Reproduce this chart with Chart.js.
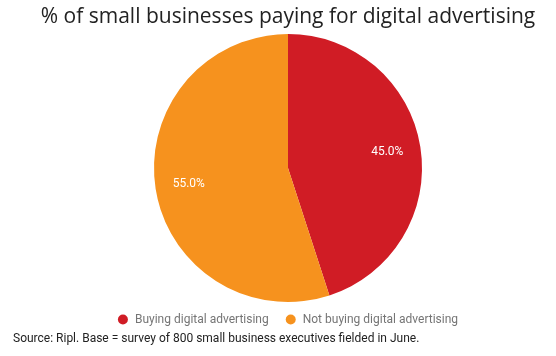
<!DOCTYPE html>
<html>
<head>
<meta charset="utf-8">
<script src="https://cdn.jsdelivr.net/npm/chart.js@4/dist/chart.umd.min.js"></script>
<style>
html,body{margin:0;padding:0;background:#fff;}
#wrap{width:556px;height:356px;}
</style>
</head>
<body>
<div id="wrap"><canvas id="c" width="556" height="356"></canvas></div>
<script>
const titleText = "% of small businesses paying for digital advertising";
const sourceText = "Source: Ripl. Base = survey of 800 small business executives fielded in June.";
const categories = ["Buying digital advertising", "Not buying digital advertising"];
const shares = [45.0, 55.0];
const sliceColors = ["#d01c25", "#f6921e"];

const sliceLabels = {
  id: 'sliceLabels',
  afterDatasetsDraw(chart) {
    const ctx = chart.ctx;
    const meta = chart.getDatasetMeta(0);
    ctx.save();
    ctx.font = '12px Roboto';
    ctx.fillStyle = '#ffffff';
    ctx.textAlign = 'center';
    ctx.textBaseline = 'middle';
    meta.data.forEach((arc, i) => {
      const mid = (arc.startAngle + arc.endAngle) / 2;
      const r = arc.outerRadius * 0.75;
      ctx.fillText(shares[i].toFixed(1) + '%', arc.x + Math.cos(mid) * r, arc.y + Math.sin(mid) * r);
    });
    ctx.restore();
  }
};

const bottomLegend = {
  id: 'bottomLegend',
  afterDraw(chart) {
    const ctx = chart.ctx;
    ctx.save();
    ctx.font = '12px Roboto';
    ctx.textBaseline = 'middle';
    const dotR = 5, gapDot = 7, gapItem = 17;
    const widths = categories.map(t => ctx.measureText(t).width);
    let total = 0;
    widths.forEach((w, i) => { total += dotR * 2 + gapDot + w + (i < widths.length - 1 ? gapItem : 0); });
    const cx = (chart.chartArea.left + chart.chartArea.right) / 2;
    let x = cx - total / 2;
    const y = 319.5;
    categories.forEach((t, i) => {
      ctx.beginPath();
      ctx.fillStyle = sliceColors[i];
      ctx.arc(x + dotR, y, dotR, 0, Math.PI * 2);
      ctx.fill();
      ctx.fillStyle = '#757575';
      ctx.textAlign = 'left';
      ctx.fillText(t, x + dotR * 2 + gapDot, y + 0.5);
      x += dotR * 2 + gapDot + widths[i] + gapItem;
    });
    ctx.font = '12px Roboto';
    ctx.fillStyle = '#222222';
    ctx.fillText(sourceText, 13, 338.5);
    ctx.restore();
  }
};

new Chart(document.getElementById('c'), {
  type: 'pie',
  data: {
    labels: categories,
    datasets: [{
      data: shares,
      backgroundColor: sliceColors,
      borderWidth: 0
    }]
  },
  options: {
    responsive: false,
    animation: false,
    layout: { padding: { left: 20, right: 0, top: 0, bottom: 54 } },
    plugins: {
      legend: { display: false },
      tooltip: { enabled: false },
      title: {
        display: true,
        text: titleText,
        color: '#222222',
        font: { family: "'Open Sans'", size: 21, weight: 'normal', lineHeight: 1.2 },
        padding: { top: 4, bottom: 4.8 }
      }
    }
  },
  plugins: [sliceLabels, bottomLegend]
});
</script>
</body>
</html>
